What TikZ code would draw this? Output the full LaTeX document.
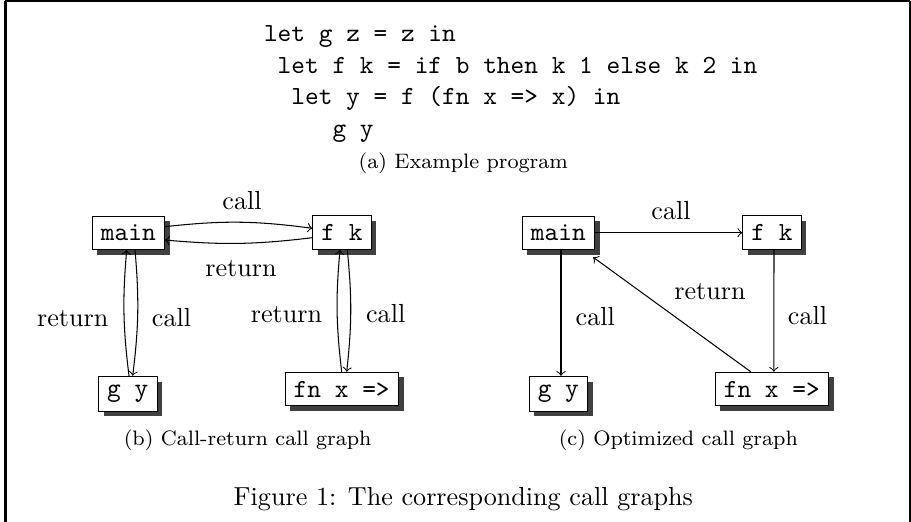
\documentclass[tikz,border=0pt]{standalone}
\usetikzlibrary{shadows,calc}
\begin{document}
\begin{tikzpicture}[x=0.3831pt,y=-0.3831pt,
  box/.style={draw, fill=white, font=\ttfamily, line width=0.4pt,
    drop shadow={shadow xshift=2pt, shadow yshift=-2pt, fill=black!75, opacity=1}},
  lbl/.style={anchor=base, inner sep=0pt},
  subcap/.style={anchor=base, inner sep=0pt, font=\footnotesize},
  code/.style={anchor=base west, inner sep=0pt, font=\ttfamily},
  arr/.style={->, line width=0.4pt}]
\useasboundingbox (0,0) rectangle (911,522);
% frame
\draw[line width=1.15pt] (5.5,522) -- (5.5,1);
\draw[line width=0.8pt] (5,1) -- (910,1);
\draw[line width=0.8pt] (910,1) -- (910,522);
% code
\node[code] (c1) at (263.5,41.7) {let g z = z in};
\node[code] (c2) at (277.2,73.3) {let f k = if b then k 1 else k 2 in};
\node[code] (c3) at (290.9,105) {let y = f (fn x => x) in};
\node[code] (c4) at (332,136.7) {g y};
\node[subcap] (capa) at (463.3,168.3) {(a) Example program};
% graph b
\node[box] (m1) at (128.3,232.7) {main};
\node[box] (f1) at (342,232.7) {f k};
\node[box] (g1) at (127.8,393.8) {g y};
\node[box] (fn1) at (341.7,389) {fn x =>};
\draw[arr] ($(m1.east)+(0,-6)$) to[bend left=7] ($(f1.west)+(0,-4.4)$);
\draw[arr] ($(f1.west)+(0,5)$) to[bend left=6] ($(m1.east)+(0,7.3)$);
\draw[arr] ($(m1.south)+(6.7,0)$) to[bend left=6] ($(g1.north)+(4.9,0)$);
\draw[arr] ($(g1.north)+(1.2,0)$) to[bend left=6] ($(m1.south)+(-1.6,0)$);
\draw[arr] ($(f1.south)+(5.3,0)$) to[bend left=6] ($(fn1.north)+(5,0)$);
\draw[arr] ($(fn1.north)+(0,0)$) to[bend left=6] ($(f1.south)+(-2,0)$);
\node[lbl] (lb1) at (242,210) {call};
\node[lbl] (lb2) at (241,276.7) {return};
\node[lbl] (lb3) at (72.7,326.7) {return};
\node[lbl] (lb4) at (171.5,326.7) {call};
\node[lbl] (lb5) at (286.5,322) {return};
\node[lbl] (lb6) at (385.7,322.5) {call};
\node[subcap] (capb) at (247.7,445.7) {(b) Call-return call graph};
% graph c
\node[box] (m2) at (558.3,232.7) {main};
\node[box] (f2) at (772,232.7) {f k};
\node[box] (g2) at (558.3,393.8) {g y};
\node[box] (fn2) at (771.8,389) {fn x =>};
\draw[arr] (m2) -- (f2);
\draw[arr] ($(m2.south)+(2.7,0)$) -- ($(g2.north)+(2.7,0)$);
\draw[arr] ($(f2.south)+(2,0)$) -- ($(fn2.north)+(2,0)$);
\draw[arr] ($(fn2.north)+(-21.1,0)$) -- ($(m2.south east)+(-1.7,7.4)$);
\node[lbl] (lc1) at (671,219.3) {call};
\node[lbl] (lc2) at (595.3,325.7) {call};
\node[lbl] (lc3) at (807.5,324) {call};
\node[lbl] (lc4) at (710,299) {return};
\node[subcap] (capc) at (678.3,445.7) {(c) Optimized call graph};
% main caption
\node[lbl] (capfig) at (463.3,505) {Figure 1: The corresponding call graphs};
\end{tikzpicture}
\end{document}
